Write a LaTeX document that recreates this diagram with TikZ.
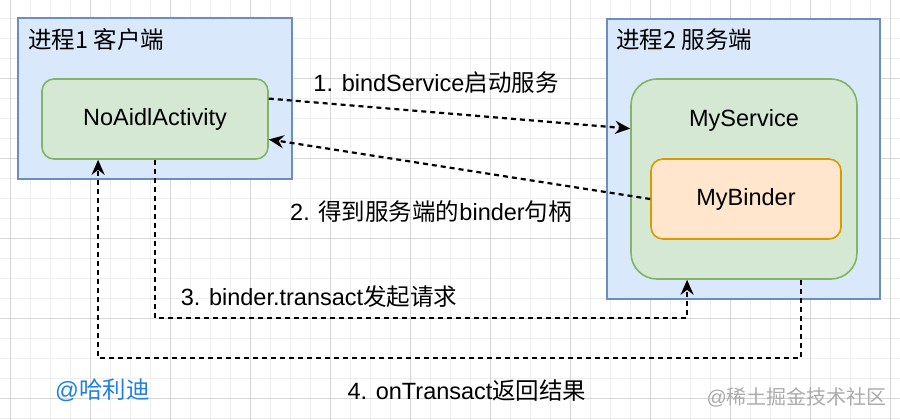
\documentclass[tikz,border=0pt]{standalone}
\usepackage{fontspec}
\setmainfont{Liberation Sans}
\newfontfamily\cjk{Noto Sans CJK SC}
\usetikzlibrary{arrows.meta,calc}
\definecolor{gridminor}{HTML}{EEEEEE}
\definecolor{gridmajor}{HTML}{D6D6D6}
\definecolor{procfill}{HTML}{DAE8FC}
\definecolor{procline}{HTML}{6C8EBF}
\definecolor{greenfill}{HTML}{D5E8D4}
\definecolor{greenline}{HTML}{82B366}
\definecolor{orfill}{HTML}{FFE6CC}
\definecolor{orline}{HTML}{D79B00}
\definecolor{authorblue}{HTML}{2080E0}
\definecolor{wmgray}{HTML}{ABABAB}
\tikzset{
  txt/.style={font=\fontsize{23.5}{27}\selectfont, inner sep=0pt},
  procbox/.style={draw=procline, fill=procfill, line width=1.6pt, inner sep=0pt},
  greenbox/.style={draw=greenline, fill=greenfill, line width=1.6pt, inner sep=0pt},
  orbox/.style={draw=orline, fill=orfill, line width=1.6pt, inner sep=0pt, rounded corners=12pt},
  flowtip/.tip={Stealth[length=15pt,width=13pt,inset=5pt]},
  flow/.style={line width=2.2pt, dash pattern=on 5pt off 4pt, -flowtip},
}
\begin{document}
\begin{tikzpicture}[x=1pt,y=-1pt]
\useasboundingbox (0,0) rectangle (900,420);
\fill[white] (0,0) rectangle (900,420);
% grid
\foreach \gx in {10,30,...,890} \draw[gridminor, line width=0.9pt] (\gx,0) -- (\gx,420);
\foreach \gy in {18,38,...,418} \draw[gridminor, line width=0.9pt] (0,\gy) -- (900,\gy);
\foreach \gx in {10,90,...,890} \draw[gridmajor, line width=0.9pt] (\gx,0) -- (\gx,420);
\foreach \gy in {78,158,...,398} \draw[gridmajor, line width=0.9pt] (0,\gy) -- (900,\gy);

% process 1
\node[procbox, minimum width=274pt, minimum height=161pt] (p1) at (155,98.5) {};
\node[txt, anchor=west] (p1t) at (28,40) {\cjk 进程1 客户端};
\node[greenbox, rounded corners=12pt, minimum width=226pt, minimum height=80pt] (act) at (155,119) {};
\node[txt] (actt) at (155,119) {NoAidlActivity};

% process 2
\node[procbox, minimum width=273pt, minimum height=280pt] (p2) at (743.5,159) {};
\node[txt, anchor=west] (p2t) at (616,40) {\cjk 进程2 服务端};
\node[greenbox, rounded corners=26pt, minimum width=226pt, minimum height=200pt] (svc) at (744,179) {};
\node[txt] (svct) at (744,120) {MyService};
\node[orbox, minimum width=190pt, minimum height=80pt] (binder) at (746,199) {};
\node[txt] (bindert) at (746,199) {MyBinder};

% connector points
\coordinate (a1) at ($(act.north east)!0.25!(act.south east)$);
\coordinate (a2) at ($(act.north east)!0.75!(act.south east)$);
\coordinate (s1) at ($(svc.north west)!0.25!(svc.south west)$);
\coordinate (s3) at ($(svc.south west)!0.25!(svc.south east)$);
\coordinate (s4) at ($(svc.south west)!0.75!(svc.south east)$);
\coordinate (a4) at ($(act.south west)!0.25!(act.south east)$);
\coordinate (lv3) at (0,318);
\coordinate (lv4) at (0,358);

\draw[flow] (a1) -- (s1);
\draw[flow] (binder.west) -- (a2);
\draw[flow] (act.south) -- (act.south |- lv3) -| (s3);
\draw[flow] (s4) -- (s4 |- lv4) -| (a4);

% labels
\node[txt] (l1) at (436,83) {1. bindService{\cjk 启动服务}};
\node[txt] (l2) at (431,212) {2. {\cjk 得到服务端的}binder{\cjk 句柄}};
\node[txt] (l3) at (319,297) {3. binder.transact{\cjk 发起请求}};
\node[txt] (l4) at (467,391) {4. onTransact{\cjk 返回结果}};
\node[txt, anchor=west, text=authorblue] (au) at (55,390) {@{\cjk 哈利迪}};
\node[anchor=east, inner sep=0pt, text=wmgray, font=\fontsize{20}{24}\selectfont] (wm) at (887,397) {@{\cjk 稀土掘金技术社区}};
\end{tikzpicture}
\end{document}
